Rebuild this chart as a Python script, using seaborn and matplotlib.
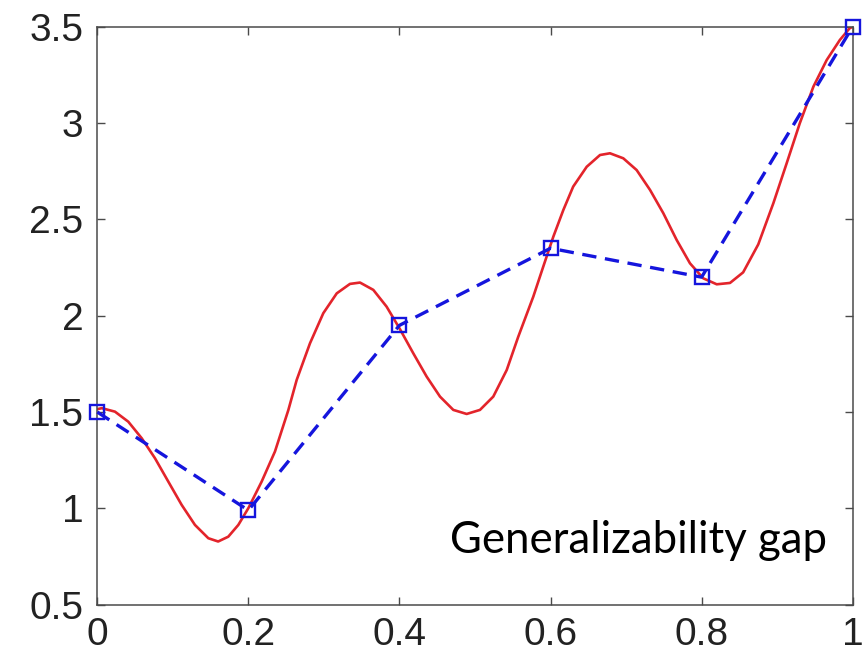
import matplotlib
matplotlib.use("Agg")
import matplotlib.pyplot as plt
import seaborn as sns
import pandas as pd

# Data
fit_x = [0.0, 0.006, 0.0234, 0.041, 0.0588, 0.0764, 0.094, 0.1117, 0.1293, 0.147,
         0.160, 0.1734, 0.1867, 0.200, 0.2176, 0.2352, 0.2529, 0.264, 0.2816, 0.2992,
         0.317, 0.3345, 0.3478, 0.3654, 0.383, 0.4007, 0.4183, 0.436, 0.4537, 0.4713,
         0.489, 0.5066, 0.5242, 0.542, 0.5573, 0.5772, 0.5904, 0.6037, 0.617, 0.630,
         0.6479, 0.6655, 0.6787, 0.6963, 0.714, 0.7317, 0.7493, 0.767, 0.7846, 0.8022,
         0.820, 0.8376, 0.855, 0.875, 0.895, 0.9126, 0.930, 0.948, 0.9656, 0.983,
         0.996, 1.0]
fit_y = [1.515, 1.520, 1.502, 1.450, 1.364, 1.260, 1.139, 1.018, 0.914, 0.845,
         0.828, 0.853, 0.914, 1.001, 1.139, 1.295, 1.51, 1.667, 1.857, 2.013,
         2.116, 2.165, 2.172, 2.134, 2.047, 1.930, 1.805, 1.684, 1.580, 1.511,
         1.490, 1.511, 1.580, 1.718, 1.891, 2.099, 2.255, 2.410, 2.549, 2.670,
         2.773, 2.834, 2.843, 2.817, 2.756, 2.653, 2.532, 2.393, 2.272, 2.194,
         2.163, 2.170, 2.225, 2.37, 2.584, 2.791, 2.999, 3.189, 3.327, 3.431,
         3.492, 3.5]

pts_x = [0.0, 0.2, 0.4, 0.6, 0.8, 1.0]
pts_y = [1.5, 0.99, 1.95, 2.35, 2.2, 3.5]

x_ticks = [0, 0.2, 0.4, 0.6, 0.8, 1]
x_labels = ["0", "0.2", "0.4", "0.6", "0.8", "1"]
y_ticks = [0.5, 1, 1.5, 2, 2.5, 3, 3.5]
y_labels = ["0.5", "1", "1.5", "2", "2.5", "3", "3.5"]

annotation = "Generalizability gap"

sns.set_theme(style="white")
plt.rcParams["font.family"] = ["Liberation Sans", "DejaVu Sans"]

fig = plt.figure(figsize=(8.64, 6.56), dpi=100)
ax = fig.add_axes([0.1126, 0.0782, 0.8743, 0.8811])

fit_df = pd.DataFrame({"x": fit_x, "y": fit_y})
pts_df = pd.DataFrame({"x": pts_x, "y": pts_y})

sns.lineplot(data=fit_df, x="x", y="y", sort=False, color="#e3242b",
             linewidth=1.9, solid_joinstyle="round", solid_capstyle="round",
             ax=ax, zorder=2)
sns.lineplot(data=pts_df, x="x", y="y", sort=False, color="#1515dd",
             linewidth=2.4, linestyle=(0, (4.3, 2.6)), marker="s",
             markersize=10, markerfacecolor="none", markeredgecolor="#1515dd",
             markeredgewidth=1.7, ax=ax, zorder=3, clip_on=False)

ax.set_xlim(0, 1)
ax.set_ylim(0.5, 3.5)
ax.set_xticks(x_ticks)
ax.set_xticklabels(x_labels)
ax.set_yticks(y_ticks)
ax.set_yticklabels(y_labels)
ax.set_xlabel("")
ax.set_ylabel("")

for s in ax.spines.values():
    s.set_visible(True)
    s.set_color("#4a4a4a")
    s.set_linewidth(1.1)

ax.tick_params(axis="both", which="major", direction="in", length=6, width=1.0,
               color="#4a4a4a", labelsize=28, labelcolor="#222222",
               top=True, right=True, bottom=True, left=True)
ax.tick_params(axis="x", pad=9)
ax.tick_params(axis="y", pad=10)

ax.text(0.467, 0.769, annotation, fontsize=31.5, family=["Lato", "DejaVu Sans"],
        color="black", ha="left", va="baseline")

fig.savefig("out.png", dpi=100)
